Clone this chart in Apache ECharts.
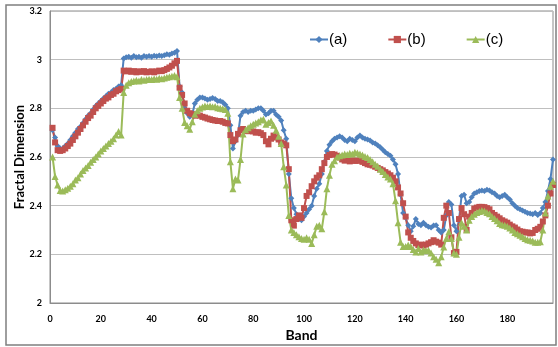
<!DOCTYPE html>
<html>
<head>
<meta charset="utf-8">
<script src="https://cdn.jsdelivr.net/npm/echarts@6/dist/echarts.min.js"></script>
<style>
  html, body { margin: 0; padding: 0; background: #fff; }
  #main { width: 558px; height: 347px; }
</style>
</head>
<body>
<div id="main"></div>
<script>
// band numbers run 1..198, one value per band
var seriesNames = ['(a)', '(b)', '(c)'];

var valuesA = [
  2.71, 2.68, 2.645, 2.635, 2.635, 2.645, 2.655, 2.67, 2.685, 2.70,
  2.715, 2.725, 2.74, 2.755, 2.77, 2.78, 2.795, 2.81, 2.82, 2.83,
  2.84, 2.85, 2.86, 2.865, 2.875, 2.88, 2.89, 2.895, 3.005, 3.01,
  3.012, 3.008, 3.015, 3.01, 3.012, 3.008, 3.015, 3.012, 3.015, 3.012,
  3.016, 3.014, 3.017, 3.015, 3.018, 3.022, 3.02, 3.025, 3.028, 3.036,
  2.89, 2.865, 2.80, 2.78, 2.765, 2.775, 2.82, 2.835, 2.845, 2.845,
  2.84, 2.835, 2.838, 2.842, 2.838, 2.83, 2.83, 2.825, 2.815, 2.80,
  2.73, 2.635, 2.665, 2.69, 2.77, 2.785, 2.79, 2.785, 2.79, 2.79,
  2.795, 2.80, 2.80, 2.79, 2.775, 2.78, 2.79, 2.79, 2.775, 2.765,
  2.75, 2.71, 2.675, 2.53, 2.43, 2.39, 2.365, 2.345, 2.34, 2.355,
  2.37, 2.385, 2.40, 2.44, 2.47, 2.49, 2.53, 2.58, 2.625, 2.65,
  2.665, 2.675, 2.68, 2.685, 2.68, 2.67, 2.665, 2.675, 2.67, 2.665,
  2.68, 2.688, 2.68, 2.675, 2.672, 2.668, 2.66, 2.655, 2.648, 2.64,
  2.63, 2.62, 2.612, 2.605, 2.59, 2.57, 2.53, 2.445, 2.37, 2.35,
  2.32, 2.295, 2.315, 2.345, 2.325, 2.32, 2.33, 2.32, 2.313, 2.31,
  2.318, 2.32, 2.30, 2.29, 2.30, 2.36, 2.415, 2.405, 2.32, 2.295,
  2.34, 2.44, 2.445, 2.41, 2.415, 2.435, 2.45, 2.455, 2.46, 2.462,
  2.46, 2.465, 2.462, 2.455, 2.45, 2.44, 2.435, 2.44, 2.445, 2.435,
  2.425, 2.41, 2.40, 2.39, 2.385, 2.38, 2.375, 2.37, 2.368, 2.365,
  2.37, 2.362, 2.37, 2.39, 2.415, 2.46, 2.51, 2.59
];

var valuesB = [
  2.72, 2.66, 2.628, 2.625, 2.628, 2.635, 2.645, 2.655, 2.67, 2.685,
  2.70, 2.715, 2.73, 2.745, 2.76, 2.77, 2.785, 2.80, 2.81, 2.82,
  2.83, 2.84, 2.845, 2.855, 2.86, 2.87, 2.875, 2.88, 2.955, 2.952,
  2.955, 2.95, 2.953, 2.948, 2.952, 2.95, 2.953, 2.948, 2.95, 2.952,
  2.948, 2.952, 2.955, 2.953, 2.957, 2.962, 2.968, 2.975, 2.985, 2.995,
  2.885, 2.855, 2.82, 2.79, 2.78, 2.776, 2.77, 2.772, 2.77, 2.765,
  2.762, 2.758, 2.755, 2.752, 2.75, 2.748, 2.748, 2.745, 2.74, 2.738,
  2.69, 2.665, 2.672, 2.695, 2.71, 2.715, 2.708, 2.706, 2.71, 2.705,
  2.70, 2.702, 2.698, 2.69, 2.665, 2.652, 2.675, 2.688, 2.68, 2.672,
  2.66, 2.655, 2.648, 2.55, 2.34, 2.318, 2.345, 2.36, 2.35, 2.39,
  2.44, 2.455, 2.48, 2.50, 2.515, 2.525, 2.55, 2.575, 2.60, 2.608,
  2.612, 2.61, 2.605, 2.598, 2.59, 2.585, 2.588, 2.582, 2.586, 2.584,
  2.585, 2.585, 2.58, 2.575, 2.57, 2.568, 2.565, 2.56, 2.555, 2.55,
  2.545, 2.538, 2.532, 2.525, 2.515, 2.50, 2.475, 2.45, 2.41, 2.355,
  2.29, 2.268, 2.255, 2.245, 2.238, 2.24, 2.236, 2.24, 2.245, 2.25,
  2.258, 2.252, 2.248, 2.24, 2.35, 2.40, 2.37, 2.27, 2.205, 2.21,
  2.345, 2.39, 2.365, 2.30, 2.355, 2.37, 2.388, 2.392, 2.395, 2.395,
  2.394, 2.39, 2.385, 2.37, 2.362, 2.355, 2.348, 2.34, 2.335, 2.33,
  2.322, 2.315, 2.31, 2.302, 2.295, 2.293, 2.29, 2.29, 2.286, 2.288,
  2.30, 2.305, 2.313, 2.335, 2.36, 2.40, 2.45, 2.485
];

var valuesC = [
  2.60, 2.52, 2.485, 2.462, 2.46, 2.465, 2.472, 2.48, 2.49, 2.505,
  2.515, 2.53, 2.545, 2.555, 2.565, 2.578, 2.59, 2.60, 2.612, 2.625,
  2.635, 2.645, 2.655, 2.665, 2.675, 2.69, 2.705, 2.69, 2.865, 2.895,
  2.905, 2.91, 2.912, 2.915, 2.912, 2.918, 2.915, 2.918, 2.92, 2.918,
  2.922, 2.92, 2.924, 2.922, 2.925, 2.928, 2.93, 2.932, 2.935, 2.93,
  2.845, 2.80, 2.742, 2.728, 2.714, 2.745, 2.776, 2.79, 2.80, 2.805,
  2.81, 2.808, 2.81, 2.806, 2.808, 2.802, 2.80, 2.798, 2.795, 2.78,
  2.58, 2.47, 2.51, 2.505, 2.59, 2.695, 2.712, 2.72, 2.728, 2.735,
  2.74, 2.745, 2.752, 2.755, 2.735, 2.742, 2.748, 2.73, 2.71, 2.685,
  2.655, 2.56, 2.485, 2.36, 2.30, 2.29, 2.28, 2.272, 2.265, 2.262,
  2.268, 2.262, 2.245, 2.28, 2.315, 2.32, 2.305, 2.375, 2.47, 2.525,
  2.57, 2.585, 2.60, 2.605, 2.608, 2.612, 2.61, 2.615, 2.612, 2.62,
  2.616, 2.612, 2.608, 2.602, 2.598, 2.59, 2.58, 2.57, 2.562, 2.55,
  2.54, 2.528, 2.518, 2.51, 2.49, 2.42, 2.33, 2.25, 2.232, 2.232,
  2.238, 2.232, 2.22, 2.21, 2.224, 2.21, 2.218, 2.215, 2.217, 2.205,
  2.19, 2.18, 2.165, 2.19, 2.23, 2.265, 2.293, 2.265, 2.205, 2.20,
  2.27, 2.33, 2.315, 2.30, 2.34, 2.355, 2.365, 2.372, 2.376, 2.38,
  2.378, 2.372, 2.367, 2.355, 2.347, 2.338, 2.327, 2.322, 2.32, 2.315,
  2.308, 2.30, 2.29, 2.285, 2.278, 2.272, 2.265, 2.26, 2.258, 2.255,
  2.25, 2.25, 2.252, 2.30, 2.37, 2.44, 2.48, 2.50
];

var xTicks = [0, 20, 40, 60, 80, 100, 120, 140, 160, 180];
var yTicks = [2, 2.2, 2.4, 2.6, 2.8, 3, 3.2];

var colors = ['#4F81BD', '#C0504D', '#9BBB59'];
var symbols = ['diamond', 'rect', 'triangle'];
var symbolSizes = [6, 6, 7];

function pairs(vals) {
  return vals.map(function (v, i) { return [i + 1, v]; });
}

var allValues = [valuesA, valuesB, valuesC];

var myChart = echarts.init(document.getElementById('main'));
myChart.setOption({
  animation: false,
  color: colors,
  graphic: [{
    type: 'rect',
    shape: { x: 6, y: 5, width: 550, height: 340 },
    style: { fill: 'none', stroke: '#7f7f7f', lineWidth: 1.5 },
    silent: true
  }],
  legend: {
    data: seriesNames,
    left: 304,
    top: 27,
    itemWidth: 18,
    itemHeight: 9,
    itemGap: 40,
    textStyle: { fontFamily: 'Liberation Sans', fontSize: 15, color: '#000', padding: [0, 0, 0, -4] }
  },
  grid: {
    show: true,
    left: 50,
    top: 11,
    right: 5,
    bottom: 42,
    borderColor: '#8c8c8c',
    borderWidth: 1,
    backgroundColor: 'transparent'
  },
  xAxis: {
    type: 'value',
    min: 0,
    max: 198,
    interval: 20,
    name: 'Band',
    nameLocation: 'middle',
    nameGap: 25,
    nameMoveOverlap: false,
    nameTextStyle: { fontFamily: 'Lato', fontWeight: 'bold', fontSize: 14, color: '#000' },
    axisLine: { lineStyle: { color: '#8c8c8c' } },
    axisTick: { show: false },
    splitLine: { show: false },
    axisLabel: {
      margin: 12,
      fontFamily: 'Lato',
      fontWeight: 'bold',
      fontSize: 9,
      color: '#000',
      formatter: function (v) { return xTicks.indexOf(v) >= 0 ? String(v) : ''; }
    }
  },
  yAxis: {
    type: 'value',
    min: 2,
    max: 3.2,
    interval: 0.2,
    name: 'Fractal Dimension',
    nameLocation: 'middle',
    nameGap: 24,
    nameMoveOverlap: false,
    nameTextStyle: { fontFamily: 'Lato', fontWeight: 'bold', fontSize: 13, color: '#000' },
    axisLine: { show: true, lineStyle: { color: '#8c8c8c' } },
    axisTick: { show: false },
    splitLine: { lineStyle: { color: '#bfbfbf', width: 1 } },
    axisLabel: {
      margin: 8,
      fontFamily: 'Lato',
      fontWeight: 'bold',
      fontSize: 9,
      color: '#000',
      formatter: function (v) {
        var t = yTicks.filter(function (k) { return Math.abs(k - v) < 1e-6; });
        return t.length ? String(t[0]) : '';
      }
    }
  },
  series: seriesNames.map(function (name, k) {
    return {
      name: name,
      type: 'line',
      data: pairs(allValues[k]),
      symbol: symbols[k],
      symbolSize: symbolSizes[k],
      showAllSymbol: true,
      lineStyle: { width: 2, color: colors[k] },
      itemStyle: { color: colors[k] }
    };
  })
});
</script>
</body>
</html>
